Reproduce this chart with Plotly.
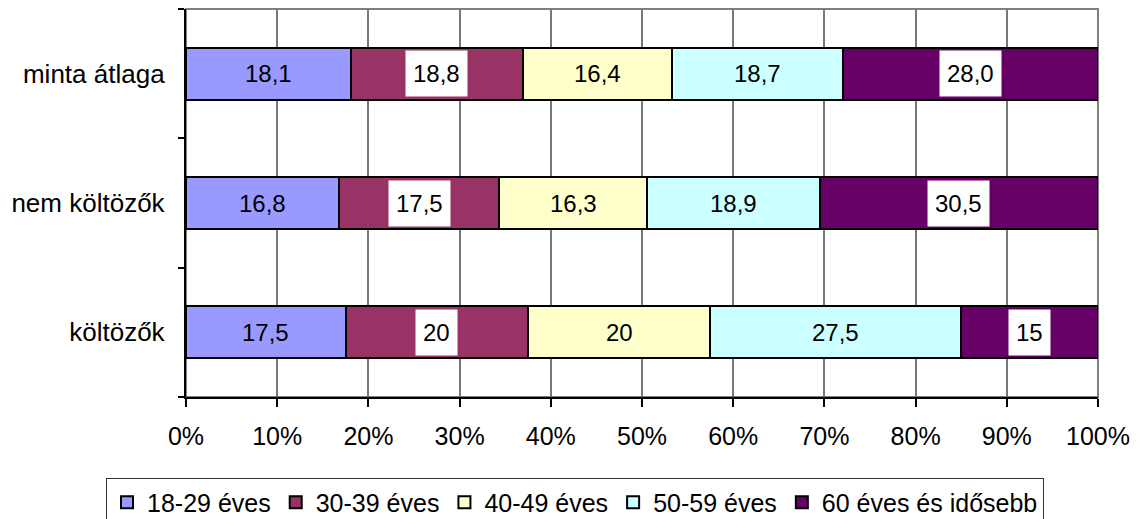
import plotly.graph_objects as go

categories = ["költözők", "nem költözők", "minta átlaga"]
series_names = ["18-29 éves", "30-39 éves", "40-49 éves", "50-59 éves", "60 éves és idősebb"]
v_18_29 = [17.5, 16.8, 18.1]
v_30_39 = [20.0, 17.5, 18.8]
v_40_49 = [20.0, 16.3, 16.4]
v_50_59 = [27.5, 18.9, 18.7]
v_60 = [15.0, 30.5, 28.0]
lbl_18_29 = ["17,5", "16,8", "18,1"]
lbl_30_39 = ["20", "17,5", "18,8"]
lbl_40_49 = ["20", "16,3", "16,4"]
lbl_50_59 = ["27,5", "18,9", "18,7"]
lbl_60 = ["15", "30,5", "28,0"]
tick_vals = [0, 10, 20, 30, 40, 50, 60, 70, 80, 90, 100]
tick_text = ["0%", "10%", "20%", "30%", "40%", "50%", "60%", "70%", "80%", "90%", "100%"]

colors = ["#9999FF", "#993366", "#FFFFCC", "#CCFFFF", "#660066"]
white_bg = [False, True, False, False, True]

values = [v_18_29, v_30_39, v_40_49, v_50_59, v_60]
labels = [lbl_18_29, lbl_30_39, lbl_40_49, lbl_50_59, lbl_60]

FONT = "Liberation Sans, Arial, sans-serif"

fig = go.Figure()
for name, vals, col in zip(series_names, values, colors):
    fig.add_trace(go.Bar(
        y=categories, x=vals, name=name, orientation="h",
        marker=dict(color=col, line=dict(color="black", width=2)),
        width=0.4,
    ))

annotations = []
cum = [0.0] * len(categories)
for vals, labs, wb in zip(values, labels, white_bg):
    for i, cat in enumerate(categories):
        center = cum[i] + vals[i] / 2
        cum[i] += vals[i]
        a = dict(x=center, y=cat, xref="x", yref="y", text=labs[i], showarrow=False,
                 font=dict(family=FONT, size=24, color="black"))
        if wb:
            a.update(bgcolor="white", borderpad=7, height=31)
        annotations.append(a)

fig.update_layout(
    barmode="stack",
    width=1138, height=519,
    margin=dict(l=178, r=48, t=1, b=130),
    paper_bgcolor="white", plot_bgcolor="white",
    font=dict(family=FONT, size=25, color="black"),
    showlegend=True,
    legend=dict(orientation="h", x=-0.0877, xanchor="left", y=-0.21, yanchor="top",
                bordercolor="#333333", borderwidth=1, font=dict(size=25),
                traceorder="normal", itemwidth=30, tracegroupgap=0),
    annotations=annotations,
    shapes=[dict(type="rect", xref="paper", yref="paper", x0=0, x1=1, y0=0, y1=1,
                 line=dict(color="#808080", width=2), layer="below")],
    xaxis=dict(range=[0, 100], tickvals=tick_vals, ticktext=tick_text,
               showgrid=True, gridcolor="#777777", gridwidth=1.5,
               showline=True, linecolor="black", linewidth=1.5,
               ticks="outside", ticklen=8, tickcolor="black", tickwidth=1.5,
               ticklabelstandoff=8,
               zeroline=False, tickfont=dict(size=25)),
    yaxis=dict(type="category", categoryorder="array", categoryarray=categories,
               range=[-0.5, 2.5],
               showline=True, linecolor="black", linewidth=1.5,
               ticks="outside", ticklen=6, tickcolor="black", tickwidth=1.5,
               tickson="boundaries", showgrid=False, ticksuffix="  ",
               tickfont=dict(size=26)),
)

fig.write_html("out.html")
